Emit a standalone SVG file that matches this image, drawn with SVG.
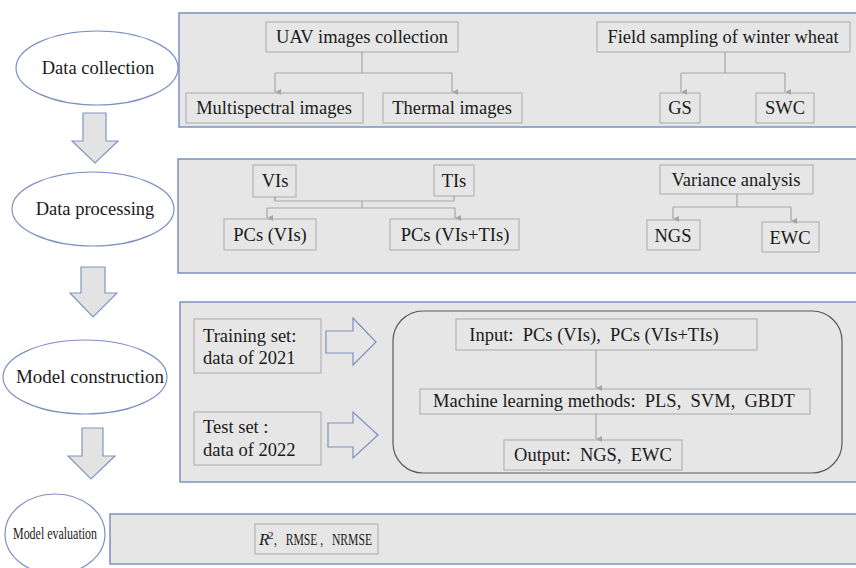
<svg xmlns="http://www.w3.org/2000/svg" width="856" height="568" viewBox="0 0 856 568">
  <defs>
    <marker id="tip" viewBox="0 0 8 8" refX="4" refY="8" markerWidth="6" markerHeight="6" markerUnits="userSpaceOnUse" orient="auto-start-reverse">
      <path d="M0,0 L8,0 L4,8 Z" fill="#a6a6a6"/>
    </marker>
    <style>
      text { font-family: "Liberation Serif", "Times New Roman", serif; font-size: 18.5px; fill: #1a1a1a; white-space: pre; }
      .mid { text-anchor: middle; }
      .small { font-size: 16px; }
      .metric { font-size: 17px; }
      .sup { font-size: 11px; }
      .panel { fill: #e6e6e6; stroke: #7c90c0; stroke-width: 1.5; }
      .box { fill: #e6e6e6; stroke: #b4b4b4; stroke-width: 1.2; }
      .stage { fill: #ffffff; stroke: #7c90c4; stroke-width: 1.2; }
      .flow { fill: #e3e3e3; stroke: #8096c2; stroke-width: 1.2; }
      .hollow { fill: #e6e6e6; stroke: #7c90c0; stroke-width: 1.2; }
      .link { fill: none; stroke: #a6a6a6; stroke-width: 1.2; }
    </style>
  </defs>

  <!-- stage panels -->
  <rect class="panel" x="179" y="13" width="690" height="114"/>
  <rect class="panel" x="178" y="159" width="690" height="114"/>
  <rect class="panel" x="180" y="302" width="690" height="180"/>
  <rect class="panel" x="110" y="514" width="760" height="50"/>

  <!-- stage ellipses -->
  <g id="stage-collection">
    <ellipse class="stage" cx="97" cy="68" rx="81" ry="37"/>
    <text class="mid" x="98" y="74">Data collection</text>
  </g>
  <g id="stage-processing">
    <ellipse class="stage" cx="93" cy="209" rx="81" ry="37"/>
    <text class="mid" x="95" y="215">Data processing</text>
  </g>
  <g id="stage-construction">
    <ellipse class="stage" cx="85" cy="377" rx="82" ry="37"/>
    <text class="mid" x="90" y="383" textLength="148" lengthAdjust="spacingAndGlyphs">Model construction</text>
  </g>
  <g id="stage-evaluation">
    <ellipse class="stage" cx="55" cy="534" rx="50" ry="40"/>
    <text class="mid small" x="55" y="539" textLength="84" lengthAdjust="spacingAndGlyphs">Model evaluation</text>
  </g>

  <!-- block arrows between stages -->
  <g id="flow-arrows">
    <path class="flow" d="M83,113 H106 V141 H118 L95,163 L72,141 H83 Z"/>
    <path class="flow" d="M81,267 H105 V293 H117 L93,317 L70,293 H81 Z"/>
    <path class="flow" d="M82,428 H103 V456 H115 L91,479 L68,456 H82 Z"/>
  </g>

  <!-- data collection -->
  <g id="uav"><rect class="box" x="266" y="22" width="192" height="30"/><text class="mid" x="362" y="43">UAV images collection</text></g>
  <g id="multispectral"><rect class="box" x="186" y="93" width="177" height="30"/><text class="mid" x="274" y="114">Multispectral images</text></g>
  <g id="thermal"><rect class="box" x="383" y="93" width="139" height="30"/><text class="mid" x="452" y="114">Thermal images</text></g>
  <g id="field"><rect class="box" x="597" y="22" width="253" height="30"/><text class="mid" x="723" y="43">Field sampling of winter wheat</text></g>
  <g id="gs"><rect class="box" x="660" y="93" width="40" height="30"/><text class="mid" x="680" y="114">GS</text></g>
  <g id="swc"><rect class="box" x="756" y="93" width="58" height="30"/><text class="mid" x="785" y="114">SWC</text></g>

  <!-- data processing -->
  <g id="vis"><rect class="box" x="253" y="165" width="43" height="32"/><text class="mid" x="275" y="187">VIs</text></g>
  <g id="tis"><rect class="box" x="434" y="165" width="40" height="31"/><text class="mid" x="454" y="187">TIs</text></g>
  <g id="pcs-vis"><rect class="box" x="224" y="219" width="92" height="31"/><text class="mid" x="270" y="241">PCs (VIs)</text></g>
  <g id="pcs-vistis"><rect class="box" x="390" y="219" width="129" height="31"/><text class="mid" x="455" y="241">PCs (VIs+TIs)</text></g>
  <g id="variance"><rect class="box" x="660" y="165" width="153" height="29"/><text class="mid" x="736" y="186">Variance analysis</text></g>
  <g id="ngs"><rect class="box" x="647" y="220" width="53" height="30"/><text class="mid" x="673" y="242">NGS</text></g>
  <g id="ewc"><rect class="box" x="762" y="222" width="57" height="30"/><text class="mid" x="790" y="244">EWC</text></g>

  <!-- model construction -->
  <g id="training"><rect class="box" x="194" y="319" width="127" height="54"/><text x="203" y="342">Training set:</text><text x="203" y="364">data of 2021</text></g>
  <g id="test"><rect class="box" x="194" y="412" width="127" height="53"/><text x="203" y="433">Test set :</text><text x="203" y="456">data of 2022</text></g>
  <g id="feed-arrows">
    <path class="hollow" d="M326,331 H353 V318 L376,342 L353,365 V353 H326 Z"/>
    <path class="hollow" d="M328,423 H353 V412 L378,435 L353,458 V447 H328 Z"/>
  </g>
  <g id="modelling">
    <rect x="393" y="311" width="449" height="162" rx="30" ry="30" fill="none" stroke="#5a5a5a" stroke-width="1.2"/>
  </g>
  <g id="input"><rect class="box" x="456" y="319" width="301" height="31"/><text class="mid" x="594" y="341">Input:  PCs (VIs),  PCs (VIs+TIs)</text></g>
  <g id="methods"><rect class="box" x="420" y="389" width="390" height="25"/><text class="mid" x="614" y="407">Machine learning methods:  PLS,  SVM,  GBDT</text></g>
  <g id="output"><rect class="box" x="504" y="440" width="178" height="30"/><text class="mid" x="593" y="461">Output:  NGS,  EWC</text></g>

  <!-- model evaluation -->
  <g id="metrics"><rect class="box" x="255" y="524" width="123" height="30"/>
    <text class="metric" x="259" y="545" font-style="italic">R</text>
    <text class="sup" x="268" y="539">2</text>
    <text class="metric" x="274" y="545" textLength="98" lengthAdjust="spacingAndGlyphs">,   RMSE ,   NRMSE</text>
  </g>

  <!-- connectors -->
  <g id="connectors">
    <path class="link" d="M362,52 V73 M275,73 H452"/>
    <path class="link" d="M275,73 V92" marker-end="url(#tip)"/>
    <path class="link" d="M452,73 V92" marker-end="url(#tip)"/>
    <path class="link" d="M725,52 V73 M681,73 H785"/>
    <path class="link" d="M681,73 V92" marker-end="url(#tip)"/>
    <path class="link" d="M785,73 V92" marker-end="url(#tip)"/>

    <path d="M275,197 V201" stroke="#7c90c4" stroke-width="1.2" fill="none"/>
    <path class="link" d="M275,201 H454 V196 M362,201 V208 M267,208 H455"/>
    <path class="link" d="M267,208 V218" marker-end="url(#tip)"/>
    <path class="link" d="M455,208 V218" marker-end="url(#tip)"/>
    <path class="link" d="M737,194 V207 M673,207 H791"/>
    <path class="link" d="M673,207 V219" marker-end="url(#tip)"/>
    <path class="link" d="M791,207 V221" marker-end="url(#tip)"/>

    <path class="link" d="M596,350 V388" marker-end="url(#tip)"/>
    <path class="link" d="M596,414 V439" marker-end="url(#tip)"/>
  </g>
</svg>
